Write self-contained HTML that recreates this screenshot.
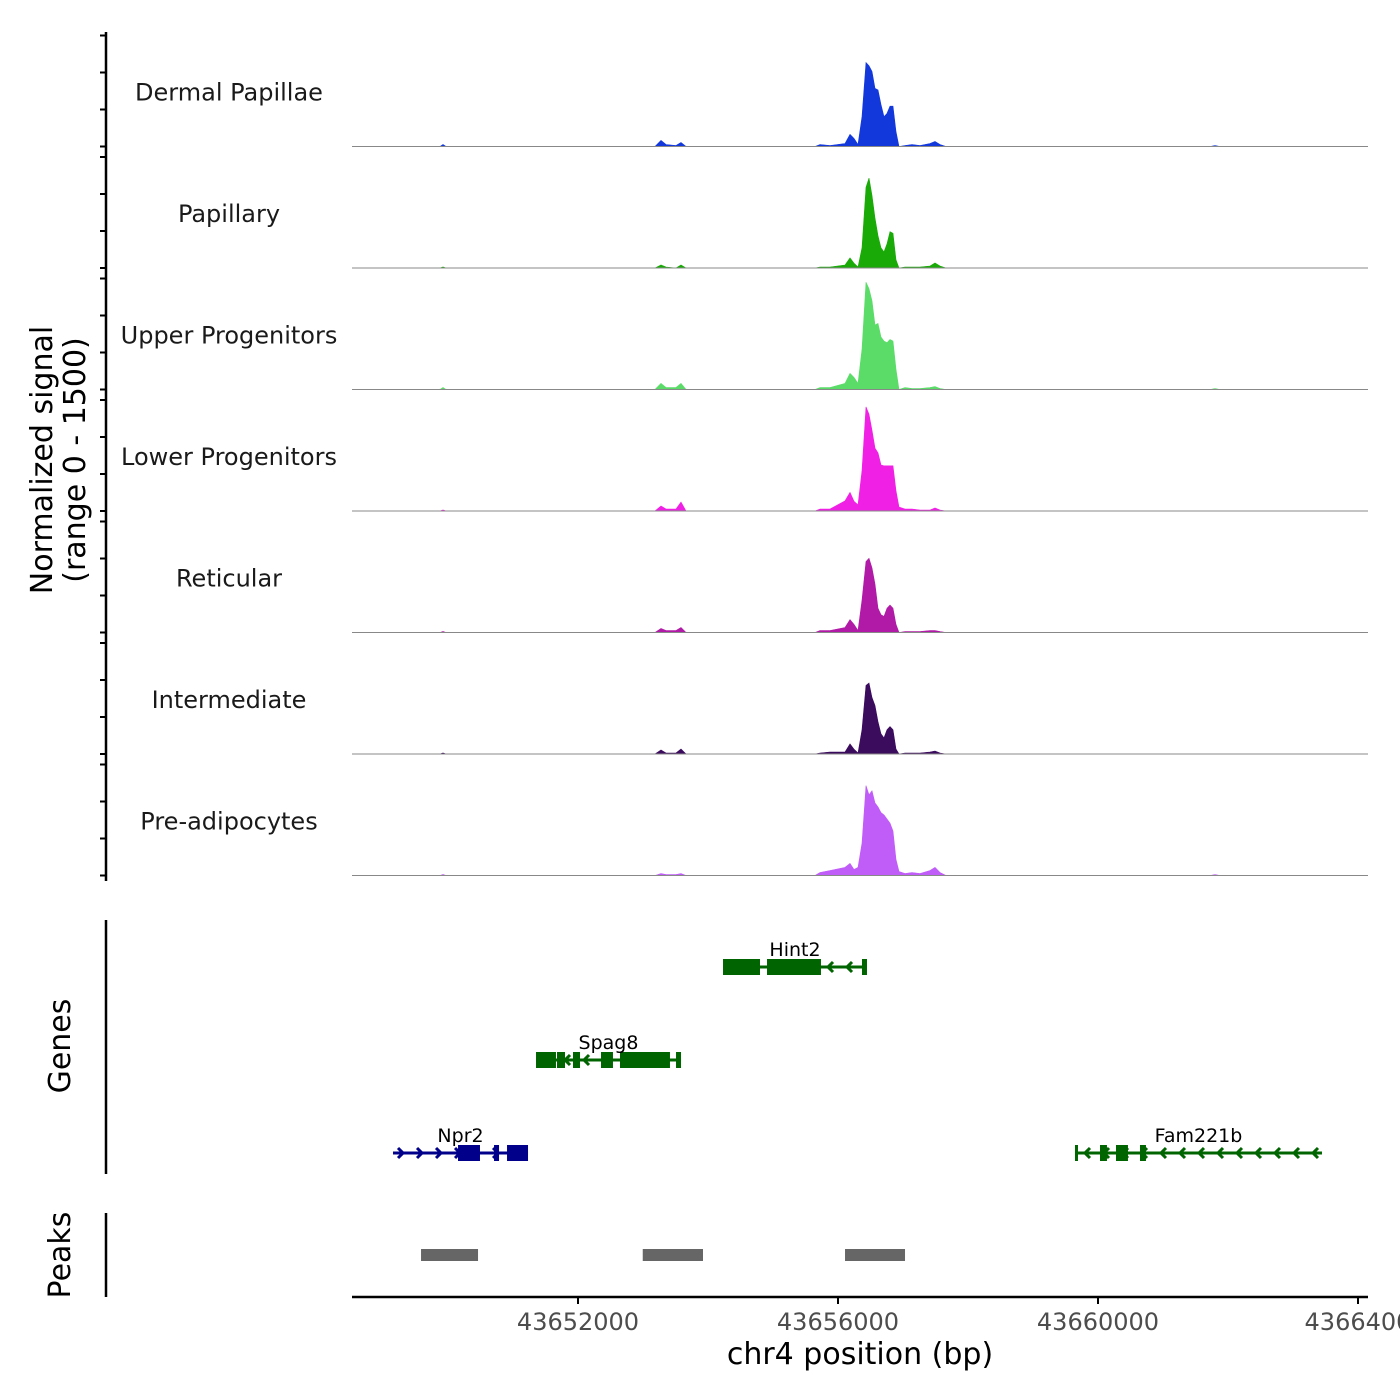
<!DOCTYPE html>
<html><head><meta charset="utf-8"><style>
html,body{margin:0;padding:0;background:#fff;}
svg{display:block;font-family:"DejaVu Sans","Liberation Sans",sans-serif;}
</style></head><body>
<svg id="chart" width="1400" height="1400" viewBox="0 0 1400 1400">
<g id="tracks"></g>
<g id="genes"></g>
<g id="peaks"></g>
<g id="xaxis"></g>
<text x="0" y="0" transform="translate(52,460) rotate(-90)" text-anchor="middle" font-size="30" fill="#000">Normalized signal</text>
<text x="0" y="0" transform="translate(85,460) rotate(-90)" text-anchor="middle" font-size="30" fill="#000">(range 0 - 1500)</text>
<text x="0" y="0" transform="translate(70,1046) rotate(-90)" text-anchor="middle" font-size="30" fill="#000">Genes</text>
<text x="0" y="0" transform="translate(70,1255) rotate(-90)" text-anchor="middle" font-size="30" fill="#000">Peaks</text>
<text x="860" y="1364" text-anchor="middle" font-size="30" fill="#000">chr4 position (bp)</text>
</svg>
<script>
const regionStart = 43648523, regionEnd = 43664154;
const trackNames = ["Dermal Papillae","Papillary","Upper Progenitors","Lower Progenitors","Reticular","Intermediate","Pre-adipocytes"];
const trackColors = ["#1238dc","#1aaa08","#5bdc68","#f020e4","#b01aa6","#3b0b5e","#c05cf8"];
const positions = [43648523,43649877,43649923,43649969,43653185,43653277,43653354,43653508,43653585,43653661,
43655646,43655723,43655877,43656108,43656185,43656246,43656308,43656369,43656431,43656477,43656523,43656569,43656615,43656661,43656708,43656754,43656800,43656846,43656892,43656938,
43657031,43657138,43657261,43657415,43657492,43657569,43657661,43661723,43661800,43661877,43664154];
const sigDermal = [0,0,25,0,0,75,25,12,50,0,0,25,12,37,150,100,25,370,1040,1000,930,720,700,520,370,410,500,500,185,0,12,25,12,37,62,25,0,0,12,0,0];
const sigPapillary = [0,0,12,0,0,37,12,0,37,0,0,12,12,37,125,60,12,250,1000,1115,900,620,400,250,200,300,450,430,100,0,12,12,12,25,62,25,0,0,0,0,0];
const sigUpper = [0,0,25,0,0,75,25,25,75,0,0,25,25,75,200,150,75,500,1330,1250,1100,800,820,650,600,580,620,600,250,0,25,12,12,25,37,12,0,0,12,0,0];
const sigLower = [0,0,12,0,0,62,25,25,110,0,0,25,25,125,230,120,75,500,1290,1200,1000,780,720,570,560,560,560,560,250,50,25,25,12,12,37,12,0,0,0,0,0];
const sigReticular = [0,0,12,0,0,50,25,25,62,0,0,25,25,62,160,100,25,400,880,920,800,600,300,220,200,300,340,300,100,0,12,12,12,25,25,12,0,0,0,0,0];
const sigIntermediate = [0,0,12,0,0,50,12,12,62,0,0,12,25,25,125,60,12,300,850,880,700,600,400,250,200,300,340,300,62,0,12,12,12,25,37,12,0,0,0,0,0];
const sigPreadipo = [0,0,12,0,0,25,12,12,25,0,0,37,62,100,150,75,100,400,1115,1000,1050,900,850,780,750,700,650,550,200,50,25,37,25,62,100,37,0,0,12,0,0];
const signals = [sigDermal,sigPapillary,sigUpper,sigLower,sigReticular,sigIntermediate,sigPreadipo];
const xTicks = [43652000,43656000,43660000,43664000];
const xTickLabels = ["43652000","43656000","43660000","4366400"];
const geneNames = ["Hint2","Spag8","Npr2","Fam221b"];
const geneStarts = [43654231,43651354,43649154,43659646];
const geneEnds = [43656446,43653585,43651231,43663446];
const geneStrands = [-1,-1,1,-1];
const geneRows = [0,1,2,2];
const geneColors = ["#006400","#006400","#00008b","#006400"];
const geneExons = [
 [[43654231,43654800],[43654908,43655738],[43656369,43656446]],
 [[43651354,43651661],[43651677,43651800],[43651923,43652031],[43652354,43652538],[43652646,43653415],[43653508,43653585]],
 [[43650154,43650492],[43650708,43650785],[43650908,43651231]],
 [[43659646,43659692],[43660031,43660138],[43660277,43660461],[43660646,43660738]]
];
const peakStarts = [43649585,43652996,43656108];
const peakEnds = [43650462,43653923,43657031];

const NS="http://www.w3.org/2000/svg";
const px0=352, px1=1368;
function xs(bp){return px0+(bp-regionStart)/(regionEnd-regionStart)*(px1-px0);}
const trackH=121.5, firstBase=146.5, yMax=1500, plotH=121;
function mk(tag,attrs,parent){const e=document.createElementNS(NS,tag);for(const k in attrs)e.setAttribute(k,attrs[k]);parent.appendChild(e);return e;}
const T=document.getElementById('tracks');
const yl=mk('line',{x1:106,y1:32,x2:106,y2:881,stroke:'#000','stroke-width':2.5},T);


signals.forEach((vals,i)=>{
  const base=firstBase+i*trackH;
  const ys=v=>base-v/yMax*plotH;
  for(let t=0;t<4;t++){
    const tk=mk('line',{x1:100,x2:106,y1:base-t*37,y2:base-t*37,stroke:'#000','stroke-width':2},T);
    
    
  }
  let d='M'+xs(positions[0])+','+base;
  positions.forEach((p,j)=>{d+=' L'+xs(p).toFixed(1)+','+ys(vals[j]).toFixed(1);});
  d+=' L'+xs(positions[positions.length-1])+','+base+' Z';
  const a=mk('path',{d:d,fill:trackColors[i],stroke:trackColors[i],'stroke-width':0.6},T);
  
  
  const bl=mk('line',{x1:px0,x2:px1,y1:base,y2:base,stroke:'#888','stroke-width':1},T);
  
  
  const lb=mk('text',{x:229,y:base-46,'text-anchor':'middle','font-size':24,fill:'#1a1a1a'},T);
  lb.textContent=trackNames[i];
  
  
});
const G=document.getElementById('genes');
const ga=mk('line',{x1:106,y1:920,x2:106,y2:1174,stroke:'#000','stroke-width':2.5},G);


const rowY=[967,1060,1153];
geneNames.forEach((n,i)=>{
  const y=rowY[geneRows[i]], c=geneColors[i];
  const x1=xs(geneStarts[i]), x2=xs(geneEnds[i]);
  const g=mk('g',{},G);
  
  
  mk('line',{x1:x1,x2:x2,y1:y,y2:y,stroke:c,'stroke-width':3},g);
  for(let x=x1+10;x<x2-4;x+=19){
    const s=geneStrands[i]*5;
    mk('polyline',{points:(x-s)+','+(y-5)+' '+x+','+y+' '+(x-s)+','+(y+5),fill:'none',stroke:c,'stroke-width':3},g);
  }
  geneExons[i].forEach(ex=>{
    const a=xs(ex[0]), b=xs(ex[1]);
    mk('rect',{x:a,y:y-8,width:Math.max(b-a,3),height:16,fill:c},g);
  });
  const t=mk('text',{x:(x1+x2)/2,y:y-11,'text-anchor':'middle','font-size':19,fill:'#000'},g);
  t.textContent=n;
});
const P=document.getElementById('peaks');
const pa=mk('line',{x1:106,y1:1213,x2:106,y2:1297,stroke:'#000','stroke-width':2.5},P);


peakStarts.forEach((s,i)=>{
  const r=mk('rect',{x:xs(s),y:1249,width:xs(peakEnds[i])-xs(s),height:12,fill:'#666'},P);
  
  
});
const X=document.getElementById('xaxis');
const xl=mk('line',{x1:px0,x2:px1,y1:1297,y2:1297,stroke:'#000','stroke-width':2.5},X);


xTicks.forEach((v,i)=>{
  const x=xs(v);
  const tk=mk('line',{x1:x,x2:x,y1:1297,y2:1304,stroke:'#000','stroke-width':2},X);
  
  
  const t=mk('text',{x:x,y:1330,'text-anchor':'middle','font-size':24,fill:'#4d4d4d'},X);
  t.textContent=xTickLabels[i];
  
  
});
</script>
</body></html>
